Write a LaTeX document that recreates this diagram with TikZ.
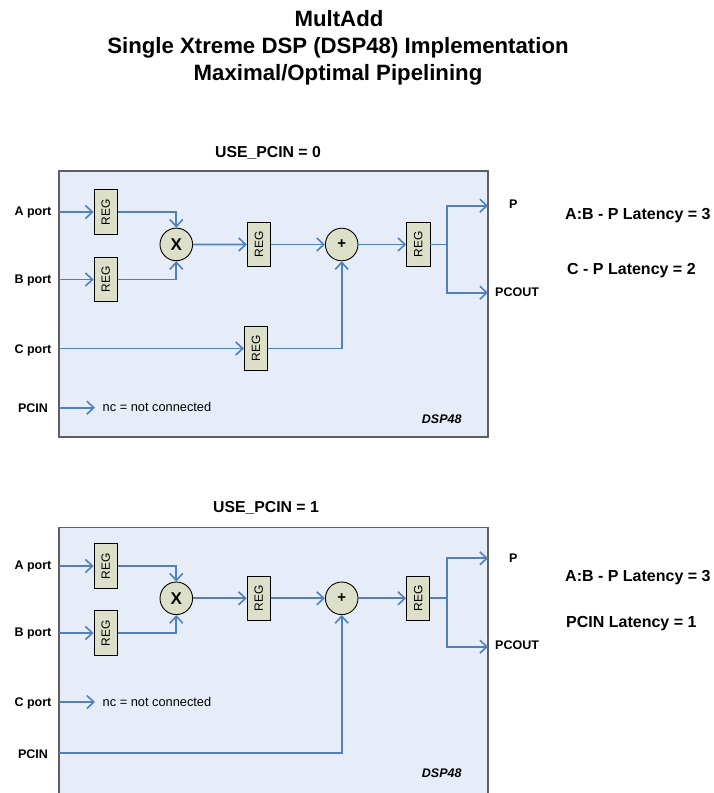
\documentclass[tikz,border=0pt]{standalone}
\usepackage{fontspec}
\setmainfont{Liberation Sans}
\usepackage{graphicx}
\usetikzlibrary{arrows.meta}
\definecolor{wire}{RGB}{79,129,189}
\definecolor{regfill}{RGB}{221,224,200}
\definecolor{dspfill}{RGB}{231,237,248}
\definecolor{dspedge}{RGB}{95,95,95}
\tikzset{
  wirel/.style={draw=wire, line width=1.8pt},
  arr/.style={wirel, -{Straight Barb[length=7pt,width=13pt,line width=1.6pt]}},
  regbox/.style={draw=black, line width=0.9pt, fill=regfill, minimum width=23.3pt, minimum height=44.3pt, inner sep=0pt, font=\fontsize{12}{14}\selectfont},
  opcirc/.style={circle, draw=black, line width=0.9pt, fill=regfill, minimum size=32.6pt, inner sep=0pt},
  portlbl/.style={font=\fontsize{12.5}{15}\selectfont\bfseries, anchor=base},
  outlbl/.style={font=\fontsize{12.5}{15}\selectfont\bfseries, anchor=base west, inner sep=0pt},
  latlbl/.style={font=\fontsize{16}{19}\selectfont\bfseries, anchor=base west, inner sep=0pt},
  nclbl/.style={font=\fontsize{12.8}{15}\selectfont, anchor=base west, inner sep=0pt},
  dsplbl/.style={font=\fontsize{12.5}{15}\selectfont\bfseries\itshape, anchor=base},
  sectlbl/.style={font=\fontsize{15.8}{18}\selectfont\bfseries, anchor=base},
  titlelbl/.style={font=\fontsize{22.2}{26}\selectfont\bfseries, anchor=base},
  dspbox/.style={fill=dspfill, draw=dspedge, line width=1.5pt}
}
\begin{document}
\begin{tikzpicture}[x=1pt,y=-1pt]
\useasboundingbox (0,0) rectangle (713,793);

% titles
\node[titlelbl] (t1) at (339,26) {MultAdd};
\node[titlelbl] (t2) at (338,53) {Single Xtreme DSP (DSP48) Implementation};
\node[titlelbl] (t3) at (338,80.5) {Maximal/Optimal Pipelining};

% ================= top panel =================
\node[sectlbl] (s0) at (268,157.8) {USE\_PCIN = 0};
\path[dspbox] (59,171) rectangle (488,437);

\node[portlbl] (pa) at (33,215.5) {A port};
\node[portlbl] (pb) at (33,283.5) {B port};
\node[portlbl] (pc) at (33,353.5) {C port};
\node[portlbl] (pp) at (33,412) {PCIN};

\coordinate (ia) at (59,212);
\coordinate (ib) at (59,279.5);
\coordinate (ic) at (59,348.5);
\coordinate (ip) at (59,407.7);
\coordinate (ipe) at (95,407.7);

\node[regbox] (ra) at (105.7,212) {\rotatebox{90}{REG}};
\node[regbox] (rb) at (105.7,279.5) {\rotatebox{90}{REG}};
\node[opcirc, font=\fontsize{17}{20}\selectfont\bfseries] (mx) at (176.3,244.4) {X};
\node[regbox] (rm) at (259,244.5) {\rotatebox{90}{REG}};
\node[opcirc, font=\fontsize{15}{18}\selectfont\bfseries] (ad) at (341.7,244.5) {+};
\node[regbox] (ro) at (418.3,244.5) {\rotatebox{90}{REG}};
\node[regbox] (rc) at (256,348.5) {\rotatebox{90}{REG}};

\coordinate (br) at (446.7,244.5);
\coordinate (op) at (488,205.7);
\coordinate (oc) at (488,292.7);

\draw[arr] (ia) -- (ra.west);
\draw[arr] (ib) -- (rb.west);
\draw[arr] (ra.east) -| (mx.north);
\draw[arr] (rb.east) -| (mx.south);
\draw[arr] (mx.east) -- (rm.west);
\draw[arr] (rm.east) -- (ad.west);
\draw[arr] (ad.east) -- (ro.west);
\draw[wirel] (ro.east) -- (br);
\draw[arr] (br) |- (op);
\draw[arr] (br) |- (oc);
\draw[arr] (ic) -- (rc.west);
\draw[arr] (rc.east) -| (ad.south);
\draw[arr] (ip) -- (ipe);

\node[nclbl] (nc0) at (102.5,411.8) {nc = not connected};
\node[dsplbl] (d0) at (441.7,423.5) {DSP48};
\node[outlbl] (lp0) at (509,208.5) {P};
\node[outlbl] (lo0) at (495,296.8) {PCOUT};
\node[latlbl] (l10) at (565,219.7) {A:B - P Latency = 3};
\node[latlbl] (l20) at (567,274.7) {C - P Latency = 2};

% ================= bottom panel =================
\node[sectlbl] (s1) at (266,512) {USE\_PCIN = 1};
\fill[dspfill] (59,527.7) rectangle (488,793);
\draw[draw=dspedge, line width=1.5pt] (59,793) -- (59,527.7) -- (488,527.7) -- (488,793);

\node[portlbl] (qa) at (33,569.5) {A port};
\node[portlbl] (qb) at (33,636.3) {B port};
\node[portlbl] (qc) at (33,706.3) {C port};
\node[portlbl] (qp) at (33,758.8) {PCIN};

\coordinate (ja) at (59,566);
\coordinate (jb) at (59,633);
\coordinate (jc) at (59,702);
\coordinate (jce) at (95,702);
\coordinate (jp) at (59,753);

\node[regbox] (sa) at (105.7,566) {\rotatebox{90}{REG}};
\node[regbox] (sb) at (105.7,633) {\rotatebox{90}{REG}};
\node[opcirc, font=\fontsize{17}{20}\selectfont\bfseries] (nx) at (176.3,598.3) {X};
\node[regbox] (sm) at (258.8,598.3) {\rotatebox{90}{REG}};
\node[opcirc, font=\fontsize{15}{18}\selectfont\bfseries] (bd) at (341.7,598.3) {+};
\node[regbox] (so) at (418.2,598.3) {\rotatebox{90}{REG}};

\coordinate (bq) at (446.7,598.3);
\coordinate (pq) at (488,558.3);
\coordinate (cq) at (488,646.7);

\draw[arr] (ja) -- (sa.west);
\draw[arr] (jb) -- (sb.west);
\draw[arr] (sa.east) -| (nx.north);
\draw[arr] (sb.east) -| (nx.south);
\draw[arr] (nx.east) -- (sm.west);
\draw[arr] (sm.east) -- (bd.west);
\draw[arr] (bd.east) -- (so.west);
\draw[wirel] (so.east) -- (bq);
\draw[arr] (bq) |- (pq);
\draw[arr] (bq) |- (cq);
\draw[arr] (jc) -- (jce);
\draw[arr] (jp) -| (bd.south);

\node[nclbl] (nc1) at (102.5,706) {nc = not connected};
\node[dsplbl] (d1) at (441.7,777.5) {DSP48};
\node[outlbl] (lp1) at (509,562.5) {P};
\node[outlbl] (lo1) at (495,649.5) {PCOUT};
\node[latlbl] (l11) at (565,581.7) {A:B - P Latency = 3};
\node[latlbl] (l21) at (566,627.4) {PCIN Latency = 1};
\end{tikzpicture}
\end{document}
